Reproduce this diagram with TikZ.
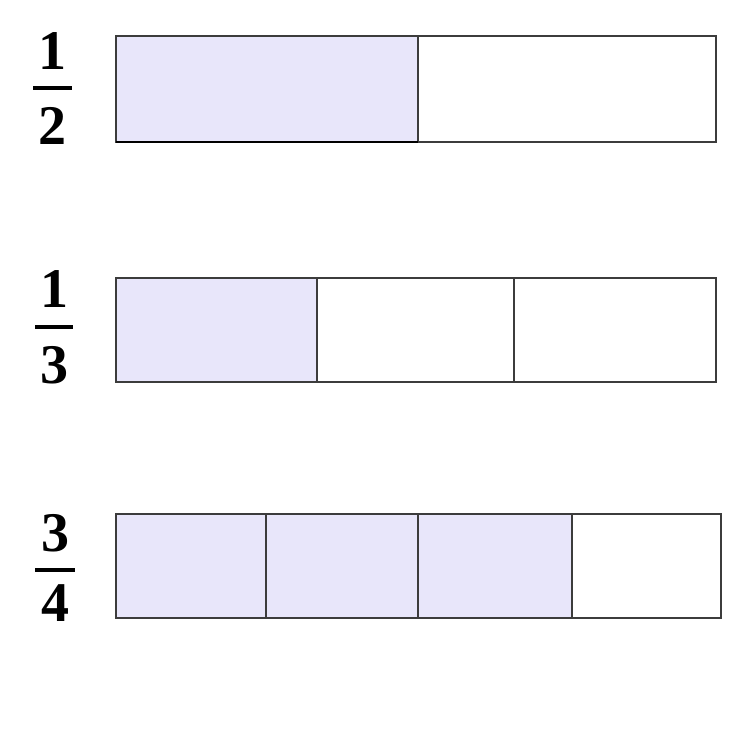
\documentclass[tikz,border=0pt]{standalone}
\usepackage{fontspec}
\setmainfont{Liberation Serif}
\definecolor{shade}{RGB}{232,230,250}
\definecolor{edge}{RGB}{60,60,60}
\begin{document}
\begin{tikzpicture}[x=1pt,y=-1pt,
  cell/.style={draw=edge,line width=1.5pt},
  filled/.style={cell,fill=shade},
  digit/.style={inner sep=0pt,font=\fontsize{56}{60}\selectfont\bfseries},
  fracbar/.style={line width=3.2pt,black}]
\useasboundingbox[fill=white] (0,0) rectangle (750,750);
% 1/2
\filldraw[filled] (116,36) rectangle (418,142);
\draw[cell] (418,36) rectangle (716,142);
\draw[line width=2.2pt,black] (116,142) -- (418,142);
\node[digit] (n1) at (52,51) {1};
\node[digit] (d1) at (52,126) {2};
\draw[fracbar] (33,88) -- (72,88);
% 1/3
\filldraw[filled] (116,278) rectangle (317,382);
\draw[cell] (317,278) rectangle (514,382);
\draw[cell] (514,278) rectangle (716,382);
\node[digit] (n2) at (54,289) {1};
\node[digit] (d2) at (54,365) {3};
\draw[fracbar] (35,327) -- (73,327);
% 3/4
\filldraw[filled] (116,514) rectangle (266,618);
\filldraw[filled] (266,514) rectangle (418,618);
\filldraw[filled] (418,514) rectangle (572,618);
\draw[cell] (572,514) rectangle (721,618);
\node[digit] (n3) at (55,533) {3};
\node[digit] (d3) at (55,603) {4};
\draw[fracbar] (35,570) -- (75,570);
\end{tikzpicture}
\end{document}
